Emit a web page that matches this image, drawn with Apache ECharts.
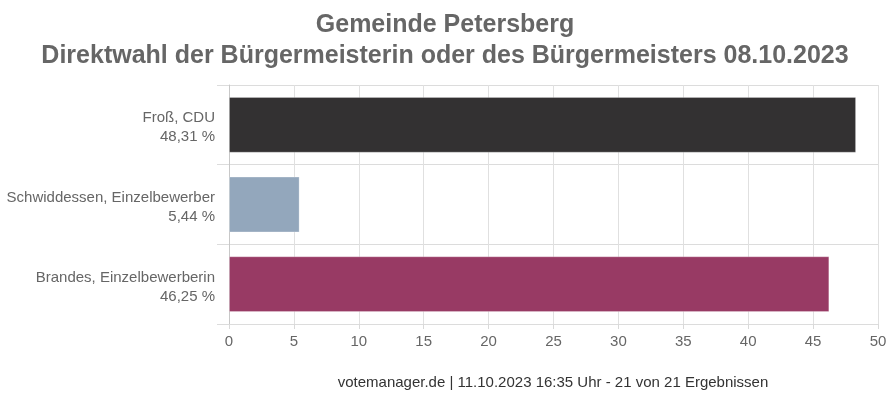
<!DOCTYPE html>
<html>
<head>
<meta charset="utf-8">
<script src="https://cdn.jsdelivr.net/npm/echarts@6/dist/echarts.min.js"></script>
<style>
  html, body { margin: 0; padding: 0; background: #fff; }
  #main { width: 890px; height: 397px; }
</style>
</head>
<body>
<div id="main"></div>
<script>
// Kandidaten und Stimmenanteile (%)
var candidates = ['Froß, CDU', 'Schwiddessen, Einzelbewerber', 'Brandes, Einzelbewerberin'];
var shares = [48.31, 5.44, 46.25];
var barColors = ['#333132', '#93a7bc', '#983a64'];
var xTicks = [0, 50, 5]; // min, max, interval

var chartDom = document.getElementById('main');
var myChart = echarts.init(chartDom);
var option;

function pct(v) {
  return v.toFixed(2).replace('.', ',') + ' %';
}

option = {
  animation: false,
  textStyle: { fontFamily: 'Liberation Sans, Arial, sans-serif' },
  title: {
    text: 'Gemeinde Petersberg\nDirektwahl der Bürgermeisterin oder des Bürgermeisters 08.10.2023',
    left: 'center',
    top: 5,
    textStyle: {
      fontSize: 25,
      fontWeight: 'bold',
      color: '#666666',
      lineHeight: 31,
      fontFamily: 'Liberation Sans, Arial, sans-serif'
    }
  },
  grid: { left: 229, right: 12, top: 85, bottom: 73 },
  xAxis: {
    type: 'value',
    min: xTicks[0],
    max: xTicks[1],
    interval: xTicks[2],
    axisLine: { show: false },
    axisTick: { show: true, length: 5, lineStyle: { color: '#d9d9d9' } },
    axisLabel: { color: '#666666', fontSize: 15, margin: 10 },
    splitLine: { show: true, lineStyle: { color: '#e0e0e0' } }
  },
  yAxis: {
    type: 'category',
    inverse: true,
    data: candidates,
    axisLine: { show: true, lineStyle: { color: '#c8c8c8' } },
    axisTick: { show: true, length: 12, lineStyle: { color: '#dcdcdc' } },
    splitLine: { show: true, lineStyle: { color: '#dcdcdc' } },
    axisLabel: {
      color: '#666666',
      fontSize: 15,
      margin: 14,
      align: 'right',
      // kleine Leerzeile oben schiebt den Block etwas nach unten
      formatter: function (name, idx) {
        return '{s| }\n{n|' + name + '}\n{n|' + pct(shares[idx]) + '}';
      },
      rich: {
        s: { fontSize: 2, lineHeight: 6 },
        n: { fontSize: 15, color: '#666666', lineHeight: 19 }
      }
    }
  },
  series: [
    {
      type: 'bar',
      barWidth: '70%',
      data: shares.map(function (v, i) {
        return { value: v, itemStyle: { color: barColors[i] } };
      }),
      itemStyle: { borderColor: 'rgba(255,255,255,0.25)', borderWidth: 1 }
    }
  ],
  graphic: [
    {
      type: 'text',
      x: 553,
      y: 383,
      style: {
        text: 'votemanager.de | 11.10.2023 16:35 Uhr - 21 von 21 Ergebnissen',
        fill: '#333333',
        fontSize: 15,
        align: 'center',
        verticalAlign: 'middle',
        fontFamily: 'Liberation Sans, Arial, sans-serif'
      }
    }
  ]
};

option && myChart.setOption(option);
</script>
</body>
</html>
